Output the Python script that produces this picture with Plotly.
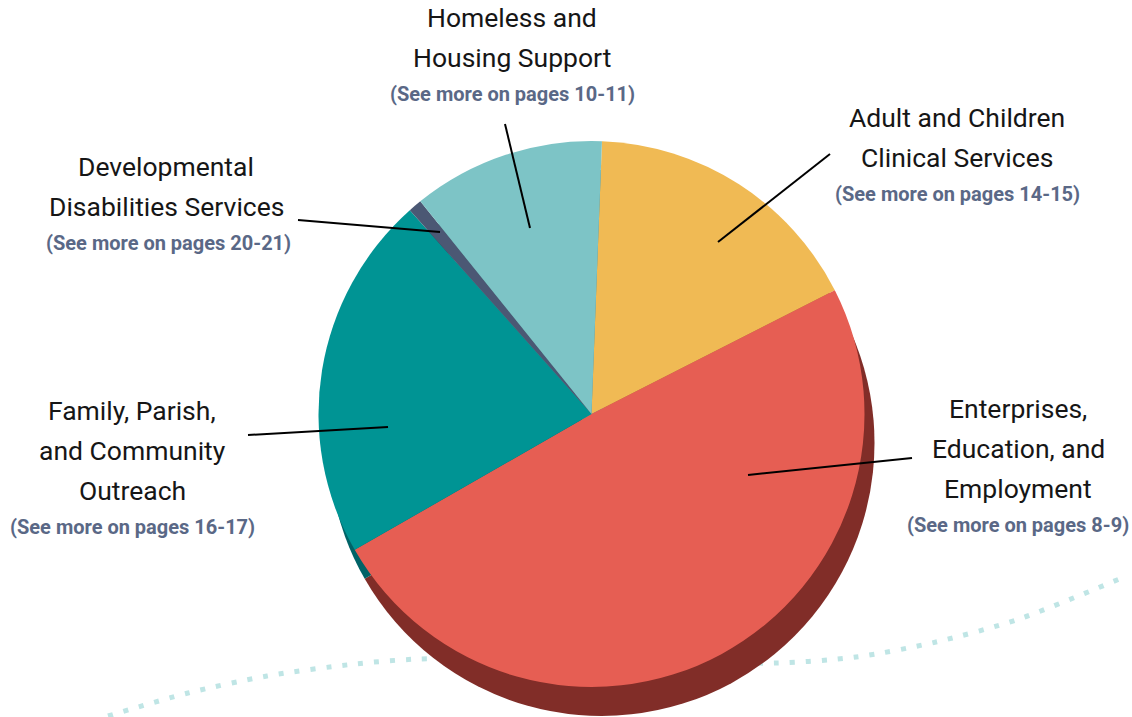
import plotly.graph_objects as go

# ---------------- data ----------------
CATEGORIES = [
    "Adult and Children Clinical Services",
    "Enterprises, Education, and Employment",
    "Family, Parish, and Community Outreach",
    "Developmental Disabilities Services",
    "Homeless and Housing Support",
]
SHARES = [16.9, 49.2, 21.7, 0.8, 11.4]
LABEL_LINES = [
    ["Adult and Children", "Clinical Services"],
    ["Enterprises,", "Education, and", "Employment"],
    ["Family, Parish,", "and Community", "Outreach"],
    ["Developmental", "Disabilities Services"],
    ["Homeless and", "Housing Support"],
]
PAGE_NOTES = [
    "(See more on pages 14-15)",
    "(See more on pages 8-9)",
    "(See more on pages 16-17)",
    "(See more on pages 20-21)",
    "(See more on pages 10-11)",
]

# ---------------- styling / layout ----------------
FACE_COLORS = ["#F0BA54", "#E65E53", "#009494", "#4B5874", "#7DC4C6"]
SIDE_COLORS = ["#A9813A", "#812D28", "#006367", "#333D52", "#58898B"]
TEXT_COLOR = "#161616"
NOTE_COLOR = "#5A6886"
FONT = "Roboto"

W, H = 1132, 717
CX, CY, R = 591.5, 414.0, 273.0          # pie face (pixels)
DX, DY = 10.0, 29.0                       # extrusion offset (pixels)
START_ANGLE = 2.2

# label block anchor (center x, first line y) in pixels
LABEL_POS = [(957, 117), (1018, 408), (132, 410), (166, 166), (512, 17)]
NOTE_X = [957, 1018, 132, 168, 512]
LINE_GAP = 40
NOTE_GAP = 37
# leader lines (label end -> slice end) in pixels
LEADERS = [
    ((830, 154), (718, 242)),
    ((912, 458), (748, 475)),
    ((248, 435), (388, 427)),
    ((298, 220), (440, 232)),
    ((505, 124), (530, 228)),
]
# decorative dotted curve control points (pixels)
DECO_X = [108, 188, 267, 355, 419, 600, 775, 856, 936, 1019, 1124]
DECO_Y = [716, 693, 676, 664, 659, 659, 663, 657, 642, 619, 577]


def domain(cx, cy, r):
    return dict(x=[(cx - r) / W, (cx + r) / W],
                y=[(H - cy - r) / H, (H - cy + r) / H])


fig = go.Figure()

# decorative dotted curve (behind the pie)
fig.add_trace(go.Scatter(
    x=DECO_X, y=DECO_Y, mode="lines",
    line=dict(color="#BFE5E5", width=5, dash="5px,11px", shape="spline", smoothing=0.8),
    hoverinfo="skip", showlegend=False,
))

# side (extrusion) of the pie
fig.add_trace(go.Pie(
    labels=CATEGORIES, values=SHARES, sort=False, direction="clockwise",
    rotation=START_ANGLE, marker=dict(colors=SIDE_COLORS, line=dict(width=0)),
    textinfo="none", hoverinfo="skip", showlegend=False,
    domain=domain(CX + DX, CY + DY, R),
))

# face of the pie
fig.add_trace(go.Pie(
    labels=CATEGORIES, values=SHARES, sort=False, direction="clockwise",
    rotation=START_ANGLE, marker=dict(colors=FACE_COLORS, line=dict(width=0)),
    textinfo="none", hovertemplate="%{label}: %{value}%<extra></extra>",
    showlegend=False, domain=domain(CX, CY, R),
))

annotations = []
shapes = []
for lines, note, (lx, ly), nx, ((x0, y0), (x1, y1)) in zip(LABEL_LINES, PAGE_NOTES, LABEL_POS, NOTE_X, LEADERS):
    for i, t in enumerate(lines):
        annotations.append(dict(
            x=lx, y=ly + i * LINE_GAP, xref="x", yref="y", text=t, showarrow=False,
            xanchor="center", yanchor="middle",
            font=dict(family=FONT, size=26.5, color=TEXT_COLOR),
        ))
    annotations.append(dict(
        x=nx, y=ly + (len(lines) - 1) * LINE_GAP + NOTE_GAP, xref="x", yref="y",
        text="<b>" + note + "</b>", showarrow=False, xanchor="center", yanchor="middle",
        font=dict(family=FONT, size=20, color=NOTE_COLOR),
    ))
    shapes.append(dict(
        type="line", xref="x", yref="y", x0=x0, y0=y0, x1=x1, y1=y1,
        line=dict(color="#000000", width=2), layer="above",
    ))

fig.update_layout(
    width=W, height=H, margin=dict(l=0, r=0, t=0, b=0),
    paper_bgcolor="white", plot_bgcolor="white",
    xaxis=dict(range=[0, W], visible=False, fixedrange=True),
    yaxis=dict(range=[H, 0], visible=False, fixedrange=True),
    annotations=annotations, shapes=shapes, showlegend=False,
)

fig.write_html("out.html", config={"displayModeBar": False},
               post_script="document.body.style.margin='0';")
